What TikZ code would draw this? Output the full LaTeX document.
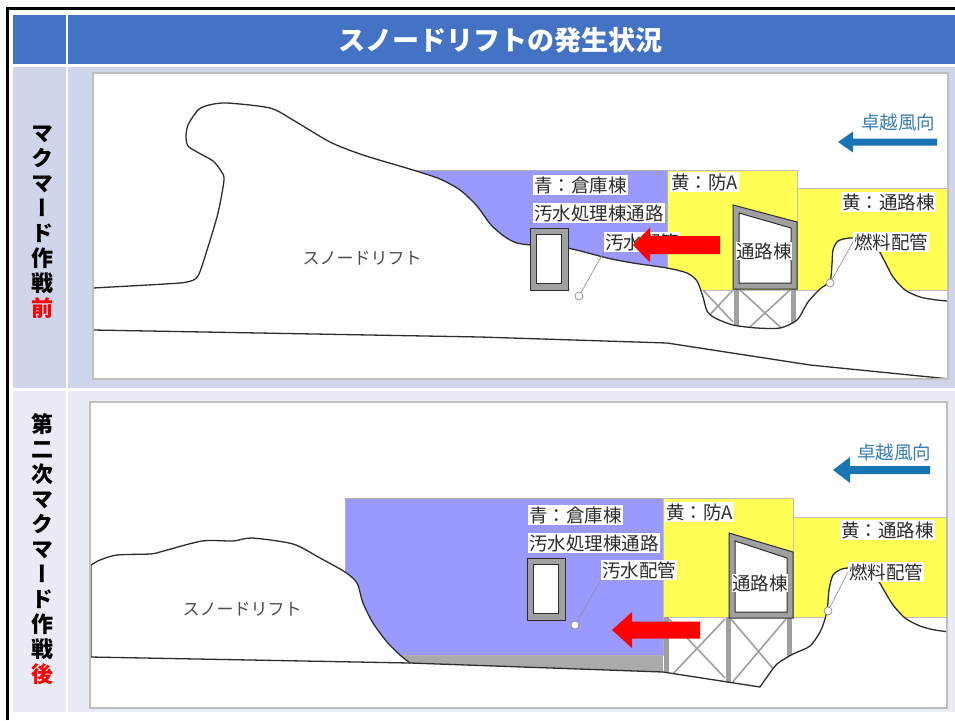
\documentclass[tikz,border=0pt]{standalone}
\usepackage{fontspec}
\setmainfont{Noto Sans CJK JP}
\newfontfamily\tatefont{Noto Sans CJK JP}[RawFeature=+vert]
\definecolor{titleblue}{RGB}{68,114,196}
\definecolor{rowlav}{RGB}{207,213,234}
\definecolor{rowpale}{RGB}{233,235,245}
\definecolor{storeblue}{RGB}{153,153,255}
\definecolor{bldyellow}{RGB}{255,255,85}
\definecolor{windblue}{RGB}{24,118,180}
\definecolor{windtext}{RGB}{60,125,175}
\definecolor{framegray}{RGB}{160,160,160}
\definecolor{inkgray}{RGB}{45,45,45}

% block arrow pointing left: colour, tip, head length, head half height, shaft half height, shaft length
\newcommand\blockarrow[6]{%
  \fill[#1] (#2) -- ++(#3,-#4) -- ++(0,#4-#5) -- ++(#6,0)
    -- ++(0,2*#5) -- ++(-#6,0) -- ++(0,#4-#5) -- cycle;}

\begin{document}
\begin{tikzpicture}[x=1pt, y=-1pt,
    tag/.style={fill=white, inner sep=1pt, text=inkgray, font=\fontsize{18.5}{19}\selectfont},
    drift/.style={text=inkgray!85, font=\fontsize{17}{17}\selectfont},
    windtag/.style={text=windtext, inner sep=1pt, font=\fontsize{18.5}{19}\selectfont},
    snowline/.style={draw=inkgray, line width=1.3pt, line join=round, fill=white},
    groundline/.style={draw=inkgray, line width=1.3pt, line join=round},
    leg/.style={draw=framegray, line width=5pt},
    brace/.style={draw=framegray, line width=1.6pt},
    wall/.style={fill=framegray, draw=inkgray, line width=1pt},
    hole/.style={fill=white, draw=inkgray, line width=1pt},
    lead/.style={draw=black!45, line width=0.6pt},
    pipe/.style={circle, draw=black!45, fill=white, line width=0.7pt, minimum size=8pt, inner sep=0pt},
    panel/.style={draw=black!25, line width=1.2pt},
    sidelabel/.style={align=center, inner sep=0pt, font=\tatefont\fontsize{22}{25}\selectfont\bfseries}
  ]
  \useasboundingbox (0,0) rectangle (955,720);

  % table frame
  \draw[line width=3pt] (7,720) -- (7,8) -- (955,8);
  \fill[titleblue] (13,15) rectangle (66,64);
  \fill[titleblue] (68,15) rectangle (955,64);
  \fill[rowlav] (13,67) rectangle (66,388);
  \fill[rowlav] (68,67) rectangle (955,388);
  \fill[rowpale] (13,391) rectangle (66,712);
  \fill[rowpale] (68,391) rectangle (955,712);
  \node[text=white, font=\fontsize{27}{27}\selectfont\bfseries] (title) at (500,40) {スノードリフトの発生状況};
  \node[sidelabel] (before) at (42,222) {マ\\ク\\マ\\ー\\ド\\作\\戦\\{\color{red}前}};
  \node[sidelabel] (after) at (42,549) {第\\二\\次\\マ\\ク\\マ\\ー\\ド\\作\\戦\\{\color{red}後}};

  %%% before
  \fill[white] (93,73) rectangle (948,379);
  \begin{scope}
    \clip (93,73) rectangle (948,379);
    \filldraw[bldyellow, draw=black!25] (667,170) rectangle (797,290);
    \filldraw[bldyellow, draw=black!25] (797,188) rectangle (952,290);
    \filldraw[storeblue, draw=black!30] (400,170) rectangle (667,300);
    \draw[leg] (736.5,288) -- (736.5,345);
    \draw[leg] (793.5,288) -- (793.5,345);
    \draw[brace] (740,290) -- (790,336) (790,290) -- (740,336);
    \draw[brace] (703,290) -- (733,322) (733,290) -- (703,322);
    \draw[snowline] (85,288) -- plot[smooth, tension=0.45] coordinates {
      (93,288) (165,284) (187,282) (198,276) (208,247) (218,213) (224,180)
      (221,171) (213,161) (197,152) (188,146) (186,137) (188,125) (198,110)
      (209,105) (227,103) (270,108) (293,120) (330,142) (363,155) (413,170)
      (440,179) (460,190) (477,206) (493,227) (517,243) (567,248) (607,258)
      (633,263) (667,268) (687,273) (697,281) (703,297) (707,311) (715,318)
      (733,325) (757,328) (780,328) (797,320) (808,302) (820,289) (830,281)
      (832,264) (833,250) (838,241) (850,238) (864,240) (877,248) (885,262)
      (893,277) (905,290) (920,297) (937,300) (958,302)}
      -- (958,390) -- (85,390) -- cycle;
    \draw[groundline] (93,330) -- (480,337) -- (667,343) -- (810,365) -- (950,379);
  \end{scope}
  \draw[panel] (93,73) rectangle (948,379);

  \filldraw[wall] (530,228) rectangle (568,290);
  \filldraw[hole] (536.5,234.5) rectangle (561.5,283.5);
  \filldraw[wall] (733,205) -- (797,222) -- (797,289) -- (733,289) -- cycle;
  \filldraw[hole] (739,213) -- (791,228) -- (791,283) -- (739,283) -- cycle;

  \node[drift] (driftA) at (362,258) {スノードリフト};
  \node[tag, anchor=west] (storeA) at (533,185) {青：倉庫棟};
  \node[tag, anchor=west] (passA) at (533,213) {汚水処理棟通路};
  \node[tag, anchor=west] (sewerA) at (604,242) {汚水配管};
  \node[tag, anchor=west] (guardA) at (670,182) {黄：防A};
  \node[tag, anchor=west] (corrA) at (841,202) {黄：通路棟};
  \node[tag, anchor=west] (fuelA) at (853,242) {燃料配管};
  \node[tag, inner sep=0.5pt] (bldA) at (764,251) {通路棟};
  \node[windtag, anchor=west] (windA) at (860,122) {卓越風向};
  \node[pipe, fill=none] (pipeA) at (579,296) {};
  \node[pipe] (fpipeA) at (830,283) {};
  \draw[lead] (pipeA) -- (sewerA.south west);
  \draw[lead] (fpipeA) -- (fuelA.west);
  \blockarrow{red}{633,245}{17}{17.5}{9}{70}
  \blockarrow{windblue}{838,142}{15}{10.5}{3.5}{84}

  %%% after
  \fill[white] (90,402) rectangle (947,708);
  \begin{scope}
    \clip (90,402) rectangle (947,708);
    \fill[framegray!90] (380,650) rectangle (663,690);
    \filldraw[storeblue, draw=black!30] (345,498) rectangle (663,655);
    \filldraw[bldyellow, draw=black!25] (663,498) rectangle (793,617);
    \filldraw[bldyellow, draw=black!25] (793,517) rectangle (952,617);
    \draw[leg] (666,617) -- (666,700);
    \draw[leg] (728,617) -- (728,700);
    \draw[leg] (789.5,617) -- (789.5,700);
    \draw[brace] (669,619) -- (725,678) (725,619) -- (669,678);
    \draw[brace] (731,619) -- (786,684) (786,619) -- (731,684);
    \draw[snowline] (80,657) -- (91,657) -- (91,565) -- plot[smooth, tension=0.45] coordinates {
      (91,565) (100,560) (117,555) (150,554) (160,552) (202,541) (233,541)
      (252,538) (293,544) (320,558) (345,572) (357,583) (363,603) (373,623)
      (387,642) (400,655) (410,663)}
      -- (663,672) -- plot[smooth, tension=0.45] coordinates {
      (760,687) (767,677) (777,664) (793,654) (810,646) (821,630) (827,611)
      (829,590) (833,575) (842,569) (853,568) (866,572) (877,579) (885,592)
      (893,605) (905,618) (920,626) (935,630) (958,633)}
      -- (958,720) -- (80,720) -- cycle;
    \draw[groundline] (90,657) -- (410,663);
  \end{scope}
  \draw[panel] (90,402) rectangle (947,708);

  \filldraw[wall] (527,558) rectangle (565,620);
  \filldraw[hole] (533.5,564.5) rectangle (558.5,613.5);
  \filldraw[wall] (729,533) -- (793,552) -- (793,618) -- (729,618) -- cycle;
  \filldraw[hole] (735,541) -- (787,558) -- (787,612) -- (735,612) -- cycle;

  \node[drift] (driftB) at (242,609) {スノードリフト};
  \node[tag, anchor=west] (storeB) at (528,515) {青：倉庫棟};
  \node[tag, anchor=west] (passB) at (528,543) {汚水処理棟通路};
  \node[tag, anchor=west] (sewerB) at (601,570) {汚水配管};
  \node[tag, anchor=west] (guardB) at (665,512) {黄：防A};
  \node[tag, anchor=west] (corrB) at (840,530) {黄：通路棟};
  \node[tag, anchor=west] (fuelB) at (848,572) {燃料配管};
  \node[tag, inner sep=0.5pt] (bldB) at (760,583) {通路棟};
  \node[windtag, anchor=west] (windB) at (856,452) {卓越風向};
  \node[pipe] (pipeB) at (575,625) {};
  \node[pipe] (fpipeB) at (828,611) {};
  \draw[lead] (pipeB) -- (sewerB.south west);
  \draw[lead] (fpipeB) -- (fuelB.west);
  \blockarrow{red}{612,630}{20}{18}{8.5}{68}
  \blockarrow{windblue}{833,470}{17}{13}{4}{80}
\end{tikzpicture}
\end{document}
